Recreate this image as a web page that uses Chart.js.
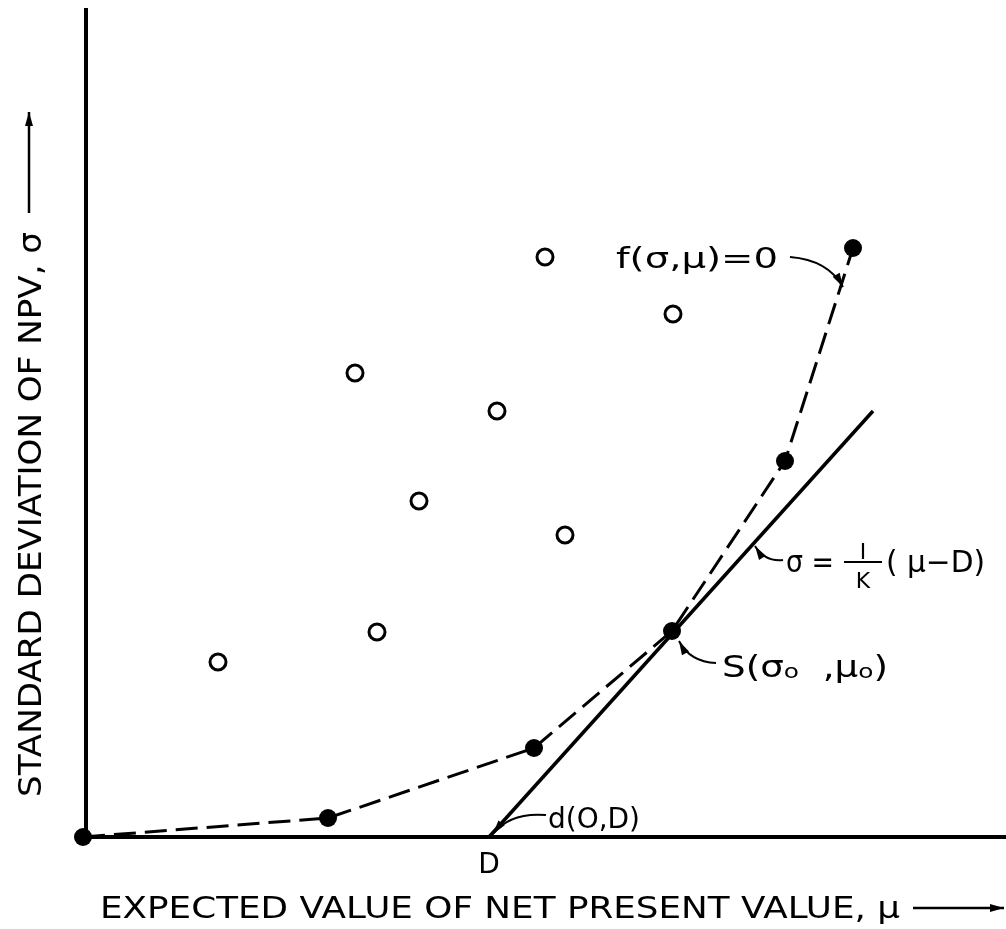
<!DOCTYPE html>
<html>
<head>
<meta charset="utf-8">
<script src="https://cdn.jsdelivr.net/npm/chart.js@4/dist/chart.umd.min.js"></script>
<style>
  html, body { margin: 0; padding: 0; background: #fff; }
  #chart { display: block; }
</style>
</head>
<body>
<canvas id="chart" width="1006" height="929"></canvas>
<script>
// efficient frontier f(sigma, mu) = 0 (filled dots, dashed)
const frontierMu    = [-0.3, 24.2, 44.8, 58.6, 69.9, 76.7];
const frontierSigma = [0,    1.9,  8.9,  20.6, 37.6, 58.9];

// other portfolios (open circles)
const otherMu    = [13.2, 29.1, 26.9, 33.3, 41.1, 45.9, 47.9, 58.7];
const otherSigma = [17.5, 20.5, 46.4, 33.6, 42.6, 58.0, 30.2, 52.3];

// sigma = (mu - D) / K, from d(0, D) through S
const lineMu    = [40.3, 78.7];
const lineSigma = [0,    42.6];

const D = 40.3;

const FONT = '"DejaVu Sans", sans-serif';

const toPoints = (xs, ys) => xs.map((x, i) => ({ x: x, y: ys[i] }));

// draw text squeezed/stretched to a given width
function fitText(ctx, str, x, y, w) {
    const m = ctx.measureText(str).width;
    ctx.save();
    ctx.translate(x, y);
    ctx.scale(w / m, 1);
    ctx.fillText(str, 0, 0);
    ctx.restore();
}

// runs: [text, fontSize, dy]; drawn left to right from x on baseline y, fitted to width w
function drawRuns(ctx, runs, x, y, w) {
    let total = 0;
    runs.forEach(([t, size]) => {
        ctx.font = size + 'px ' + FONT;
        total += ctx.measureText(t).width;
    });
    const k = w ? w / total : 1;
    ctx.save();
    ctx.translate(x, y);
    ctx.scale(k, 1);
    let cx = 0;
    runs.forEach(([t, size, dy]) => {
        ctx.font = size + 'px ' + FONT;
        ctx.fillText(t, cx, dy);
        cx += ctx.measureText(t).width;
    });
    ctx.restore();
}

function curvedArrow(ctx, x0, y0, cx, cy, x1, y1, lw) {
    ctx.beginPath();
    ctx.moveTo(x0, y0);
    ctx.quadraticCurveTo(cx, cy, x1, y1);
    ctx.lineWidth = lw || 2;
    ctx.stroke();
    const a = Math.atan2(y1 - cy, x1 - cx);
    ctx.beginPath();
    ctx.moveTo(x1, y1);
    ctx.lineTo(x1 - 14 * Math.cos(a) + 4 * Math.sin(a), y1 - 14 * Math.sin(a) - 4 * Math.cos(a));
    ctx.lineTo(x1 - 14 * Math.cos(a) - 4 * Math.sin(a), y1 - 14 * Math.sin(a) + 4 * Math.cos(a));
    ctx.closePath();
    ctx.fill();
}

// leader arrows in data units: start, control, end
const arrows = [
    [70.4, 58.0, 74.2, 57.7, 75.7, 55.0],
    [69.7, 27.7, 67.9, 27.5, 66.9, 29.1],
    [63.0, 17.4, 60.4, 17.5, 59.3, 19.6],
    [46.0, 2.2,  42.4, 2.5,  40.7, 0.3]
];

const axesPlugin = {
    id: 'axesPlugin',
    beforeDatasetsDraw(chart) {
        const { ctx, chartArea: a } = chart;
        ctx.save();
        ctx.strokeStyle = '#000';
        ctx.lineWidth = 4;
        ctx.beginPath();
        ctx.moveTo(a.left, a.top);
        ctx.lineTo(a.left, a.bottom);
        ctx.lineTo(a.right, a.bottom);
        ctx.stroke();
        ctx.restore();
    },
    afterDatasetsDraw(chart) {
        const { ctx } = chart;
        const xs = chart.scales.x, ys = chart.scales.y;
        const px = v => xs.getPixelForValue(v);
        const py = v => ys.getPixelForValue(v);
        ctx.save();
        ctx.fillStyle = '#000';
        ctx.strokeStyle = '#000';
        ctx.textBaseline = 'alphabetic';
        ctx.textAlign = 'left';

        // axis titles
        ctx.font = '30px ' + FONT;
        fitText(ctx, 'EXPECTED VALUE OF NET PRESENT VALUE, \u03bc', 100, 918, 800);
        curvedArrow(ctx, 913, 908, 960, 908, 1004, 908, 2.5);

        ctx.save();
        ctx.translate(41, 797);
        ctx.rotate(-Math.PI / 2);
        ctx.font = '32px ' + FONT;
        fitText(ctx, 'STANDARD DEVIATION OF NPV, \u03c3', 0, 0, 565);
        ctx.restore();
        curvedArrow(ctx, 29, 213, 29, 160, 29, 112, 2.5);

        // D on the axis
        ctx.font = '28px ' + FONT;
        ctx.textAlign = 'center';
        ctx.fillText('D', px(D), py(-3.6));
        ctx.textAlign = 'left';

        // f(sigma, mu) = 0
        ctx.font = '29px ' + FONT;
        fitText(ctx, 'f(\u03c3,\u03bc)=0', px(53.0), py(56.9), 162);

        // sigma = 1/K (mu - D)
        const ex = px(70.0), ey = py(26.5);
        drawRuns(ctx, [['\u03c3 =', 30, 0]], ex, ey, 48);
        ctx.font = '22px ' + FONT;
        ctx.textAlign = 'center';
        ctx.fillText('I', ex + 77, ey - 13);
        ctx.fillText('K', ex + 77, ey + 16);
        ctx.lineWidth = 2;
        ctx.beginPath();
        ctx.moveTo(ex + 58, ey - 10);
        ctx.lineTo(ex + 96, ey - 10);
        ctx.stroke();
        ctx.textAlign = 'left';
        drawRuns(ctx, [['( \u03bc\u2212D)', 30, 0]], ex + 100, ey, 99);

        // S(sigma_o, mu_o)
        drawRuns(ctx, [['S(\u03c3', 30, 0], ['o', 20, 1], ['  ,\u03bc', 30, 0], ['o', 20, 1], [')', 30, 0]],
            px(63.6), py(16.0), 166);

        // d(O,D)
        ctx.font = '28px ' + FONT;
        fitText(ctx, 'd(O,D)', px(46.2), py(0.9), 92);

        arrows.forEach(r => curvedArrow(ctx, px(r[0]), py(r[1]), px(r[2]), py(r[3]), px(r[4]), py(r[5])));
        ctx.restore();
    }
};

new Chart(document.getElementById('chart'), {
    type: 'scatter',
    data: {
        datasets: [
            {
                label: 'frontier',
                data: toPoints(frontierMu, frontierSigma),
                showLine: true,
                borderColor: '#000',
                borderWidth: 3,
                borderDash: [22, 9],
                pointRadius: 9,
                pointBackgroundColor: '#000',
                pointBorderWidth: 0,
                clip: false,
                order: 1
            },
            {
                label: 'line',
                data: toPoints(lineMu, lineSigma),
                showLine: true,
                borderColor: '#000',
                borderWidth: 3.5,
                pointRadius: 0,
                clip: false,
                order: 3
            },
            {
                label: 'others',
                data: toPoints(otherMu, otherSigma),
                showLine: false,
                borderColor: '#000',
                pointRadius: 8,
                pointBorderWidth: 3,
                pointBackgroundColor: '#fff',
                pointBorderColor: '#000',
                clip: false,
                order: 2
            }
        ]
    },
    options: {
        responsive: false,
        animation: false,
        layout: { autoPadding: false, padding: { left: 86, right: 0, top: 8, bottom: 92 } },
        plugins: { legend: { display: false }, tooltip: { enabled: false } },
        scales: {
            x: { type: 'linear', min: 0, max: 92, display: false },
            y: { type: 'linear', min: 0, max: 82.9, display: false }
        }
    },
    plugins: [axesPlugin]
});
</script>
</body>
</html>
